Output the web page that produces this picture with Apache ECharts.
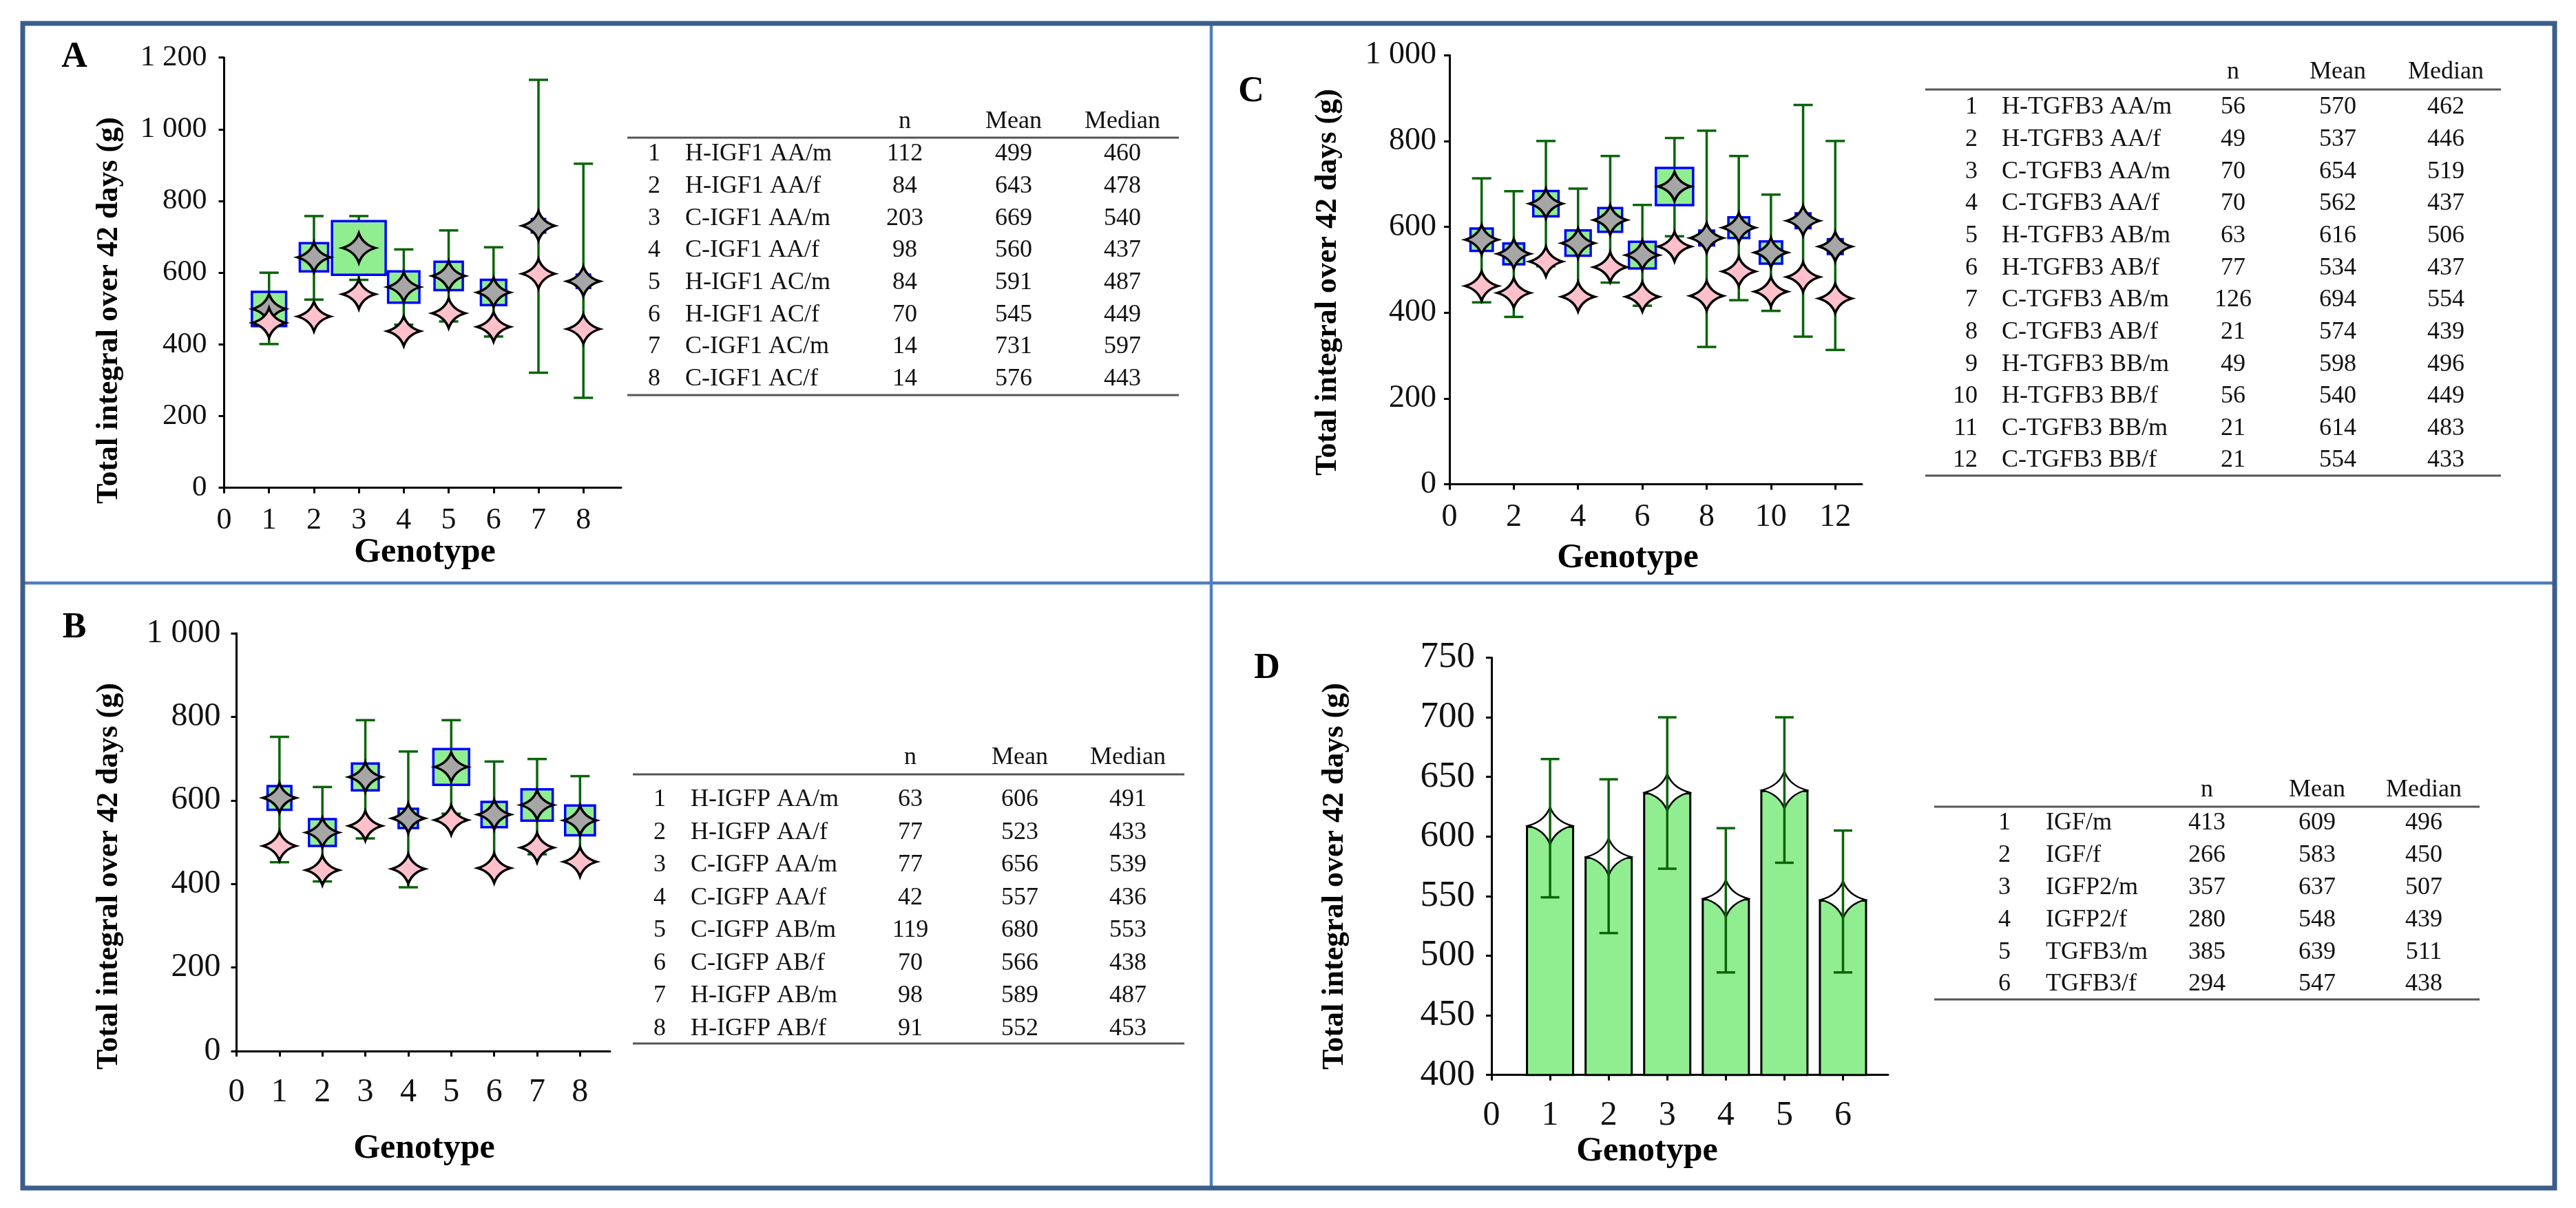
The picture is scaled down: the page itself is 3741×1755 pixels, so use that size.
<!DOCTYPE html>
<html><head><meta charset="utf-8">
<script src="https://cdn.jsdelivr.net/npm/echarts@6/dist/echarts.min.js"></script>
<style>html,body{margin:0;padding:0;background:#fff}#c{width:3741px;height:1755px}</style>
</head><body><div id="c"></div>
<script>
// ---------- DATA ----------
const A_labels = ['H-IGF1 AA/m','H-IGF1 AA/f','C-IGF1 AA/m','C-IGF1 AA/f','H-IGF1 AC/m','H-IGF1 AC/f','C-IGF1 AC/m','C-IGF1 AC/f'];
const A_n = [112,84,203,98,84,70,14,14];
const A_mean = [499,643,669,560,591,545,731,576];
const A_median = [460,478,540,437,487,449,597,443];
const A_errLow = [401,525,580,455,464,422,321,251];
const A_errHigh = [600,758,758,665,718,671,1138,904];

const B_labels = ['H-IGFP AA/m','H-IGFP AA/f','C-IGFP AA/m','C-IGFP AA/f','C-IGFP AB/m','C-IGFP AB/f','H-IGFP AB/m','H-IGFP AB/f'];
const B_n = [63,77,77,42,119,70,98,91];
const B_mean = [606,523,656,557,680,566,589,552];
const B_median = [491,433,539,436,553,438,487,453];
const B_errLow = [452,406,509,392,568,440,471,446];
const B_errHigh = [752,632,792,717,792,693,699,658];

const C_labels = ['H-TGFB3 AA/m','H-TGFB3 AA/f','C-TGFB3 AA/m','C-TGFB3 AA/f','H-TGFB3 AB/m','H-TGFB3 AB/f','C-TGFB3 AB/m','C-TGFB3 AB/f','H-TGFB3 BB/m','H-TGFB3 BB/f','C-TGFB3 BB/m','C-TGFB3 BB/f'];
const C_n = [56,49,70,70,63,77,126,21,49,56,21,21];
const C_mean = [570,537,654,562,616,534,694,574,598,540,614,554];
const C_median = [462,446,519,437,506,437,554,439,496,449,483,433];
const C_errLow = [424,390,508,435,470,416,578,320,429,404,344,313];
const C_errHigh = [713,683,800,689,765,651,807,824,765,675,884,800];

const D_labels = ['IGF/m','IGF/f','IGFP2/m','IGFP2/f','TGFB3/m','TGFB3/f'];
const D_n = [413,266,357,280,385,294];
const D_mean = [609,583,637,548,639,547];
const D_median = [496,450,507,439,511,438];
const D_errLow = [549,519,573,486,578,486];
const D_errHigh = [665,648,700,607,700,605];

const A_xTicks = [0,1,2,3,4,5,6,7,8];
const B_xTicks = [0,1,2,3,4,5,6,7,8];
const C_xTicks = [0,2,4,6,8,10,12];
const D_xTicks = [0,1,2,3,4,5,6];

const yTitle = 'Total integral over 42 days (g)';
const xTitle = 'Genotype';
const tableHead = ['n','Mean','Median'];

// ---------- STYLE ----------
const FONT = 'Liberation Serif';
const TXT = '#111';
const STAR = 'path://M0,-10 Q2.4,-2.4 10,0 Q2.4,2.4 0,10 Q-2.4,2.4 -10,0 Q-2.4,-2.4 0,-10 Z';
const fmt = v => v >= 1000 ? String(v).replace(/(\d)(\d{3})$/, '$1 $2') : String(v);

function xAxis(i, max, ticks, fs, margin) {
  return {gridIndex:i, type:'value', min:0, max:max,
    axisLine:{show:true, onZero:false, lineStyle:{color:'#000', width:3}},
    axisTick:{show:true, customValues:ticks, length:8, lineStyle:{color:'#000', width:3}},
    axisLabel:{customValues:ticks, fontFamily:FONT, fontSize:fs, color:TXT, margin:margin},
    splitLine:{show:false}};
}
function yAxis(i, min, max, interval, fs, margin) {
  return {gridIndex:i, type:'value', min:min, max:max, interval:interval,
    axisLine:{show:true, lineStyle:{color:'#000', width:3}},
    axisTick:{show:true, length:8, lineStyle:{color:'#000', width:3}},
    axisLabel:{fontFamily:FONT, fontSize:fs, color:TXT, margin:margin, formatter:fmt},
    splitLine:{show:false}};
}
function errSeries(i, lo, hi, cap, z) {
  return {type:'custom', xAxisIndex:i, yAxisIndex:i, z:z, silent:true,
    data: lo.map((l,k)=>[k+1, l, hi[k]]),
    encode:{x:0, y:[1,2]},
    renderItem:(params, api)=>{
      const x = api.value(0);
      const a = api.coord([x, api.value(1)]);
      const b = api.coord([x, api.value(2)]);
      const st = {stroke:'#0a640a', lineWidth:3.5};
      const h = cap/2;
      return {type:'group', children:[
        {type:'line', shape:{x1:a[0],y1:a[1],x2:b[0],y2:b[1]}, style:st},
        {type:'line', shape:{x1:a[0]-h,y1:a[1],x2:a[0]+h,y2:a[1]}, style:st},
        {type:'line', shape:{x1:b[0]-h,y1:b[1],x2:b[0]+h,y2:b[1]}, style:st}
      ]};
    }};
}
function scatterPanel(i, n, mean, median, lo, hi) {
  return [
    errSeries(i, lo, hi, 28, 1),
    {type:'scatter', xAxisIndex:i, yAxisIndex:i, z:2, symbol:'rect',
      data: mean.map((m,k)=>[k+1, m, n[k]]),
      symbolSize: v => 15 + 0.31*v[2],
      itemStyle:{color:'#90EE90', borderColor:'#0000FF', borderWidth:3.5, opacity:1}},
    {type:'scatter', xAxisIndex:i, yAxisIndex:i, z:3, symbol:STAR, symbolSize:[48,43],
      data: mean.map((m,k)=>[k+1, m]),
      itemStyle:{color:'#A6A6A6', borderColor:'#000', borderWidth:3.5, opacity:1}},
    {type:'scatter', xAxisIndex:i, yAxisIndex:i, z:4, symbol:STAR, symbolSize:[48,43],
      data: median.map((m,k)=>[k+1, m]),
      itemStyle:{color:'#FFC0CB', borderColor:'#000', borderWidth:3.5, opacity:1}}
  ];
}

// ---------- GRAPHIC (frame, titles, tables) ----------
const g = [];
g.push({type:'rect', z:-10, shape:{x:0,y:0,width:3741,height:1755}, style:{fill:'#fff'}});
g.push({type:'line', z:50, shape:{x1:1759,y1:34,x2:1759,y2:1726}, style:{stroke:'#4F7FBE', lineWidth:4.5}});
g.push({type:'line', z:50, shape:{x1:33,y1:847,x2:3710,y2:847}, style:{stroke:'#4F7FBE', lineWidth:4.5}});
g.push({type:'rect', z:51, shape:{x:33,y:34,width:3677,height:1692}, style:{fill:null, stroke:'#3B5E8C', lineWidth:7}});

function txt(x, y, s, opt) {
  return Object.assign({type:'text', x:x, y:y, z:60, style:Object.assign({text:s, fontFamily:FONT, fontSize:36, fill:TXT, align:'center', verticalAlign:'middle'}, opt||{})});
}
// panel letters
[['A',108,84],['B',108,913],['C',1817,134],['D',1840,972]].forEach(p=>g.push(txt(p[1],p[2],p[0],{fontSize:52,fontWeight:'bold',fill:'#000'})));
// axis titles
[[159,451],[159,1273],[1929,410],[1939,1273]].forEach(p=>{
  const t = txt(p[0],p[1],yTitle,{fontSize:44,fontWeight:'bold',fill:'#000'}); t.rotation = Math.PI/2; g.push(t);
});
[[617,803],[616,1669],[2364,811],[2392,1673]].forEach(p=>g.push(txt(p[0],p[1],xTitle,{fontSize:50,fontWeight:'bold',fill:'#000'})));

function table(c, labels, n, mean, median) {
  g.push({type:'line', z:60, shape:{x1:c.x0,y1:c.top,x2:c.x1,y2:c.top}, style:{stroke:'#555',lineWidth:3}});
  g.push({type:'line', z:60, shape:{x1:c.x0,y1:c.bot,x2:c.x1,y2:c.bot}, style:{stroke:'#555',lineWidth:3}});
  [c.nX, c.meanX, c.medX].forEach((x,k)=>g.push(txt(x, c.head, tableHead[k])));
  labels.forEach((lab,k)=>{
    const y = c.row0 + k*c.dy;
    g.push(txt(c.numX, y, String(k+1), {align:c.numAlign}));
    g.push(txt(c.labX, y, lab, {align:'left'}));
    g.push(txt(c.nX, y, String(n[k])));
    g.push(txt(c.meanX, y, String(mean[k])));
    g.push(txt(c.medX, y, String(median[k])));
  });
}
table({x0:911,x1:1712,top:200,bot:574,head:177,row0:224,dy:46.67,numX:950,numAlign:'center',labX:995,nX:1314,meanX:1472,medX:1630}, A_labels, A_n, A_mean, A_median);
table({x0:919,x1:1720,top:1125,bot:1516,head:1101,row0:1162,dy:47.5,numX:958,numAlign:'center',labX:1003,nX:1322,meanX:1481,medX:1638}, B_labels, B_n, B_mean, B_median);
table({x0:2796,x1:3632,top:130,bot:691,head:105,row0:156,dy:46.64,numX:2872,numAlign:'right',labX:2907,nX:3243,meanX:3395,medX:3552}, C_labels, C_n, C_mean, C_median);
table({x0:2809,x1:3601,top:1172,bot:1452,head:1148,row0:1196,dy:46.8,numX:2911,numAlign:'center',labX:2971,nX:3205,meanX:3365,medX:3520}, D_labels, D_n, D_mean, D_median);

// ---------- OPTION ----------
const option = {
  animation:false,
  backgroundColor:'#fff',
  grid:[
    {left:325.5, top:83.7, width:576.5, height:625},
    {left:343.5, top:920, width:542.5, height:607},
    {left:2105, top:80.2, width:599, height:623.3},
    {left:2166, top:955.5, width:576, height:606.2}
  ],
  xAxis:[
    xAxis(0, 8.84, A_xTicks, 44, 26),
    xAxis(1, 8.7, B_xTicks, 48, 36),
    xAxis(2, 12.83, C_xTicks, 46, 25),
    xAxis(3, 6.77, D_xTicks, 50, 34)
  ],
  yAxis:[
    yAxis(0, 0, 1200, 200, 43, 25),
    yAxis(1, 0, 1000, 200, 48, 23),
    yAxis(2, 0, 1000, 200, 46, 19),
    yAxis(3, 400, 750, 50, 53, 24)
  ],
  series:[
    ...scatterPanel(0, A_n, A_mean, A_median, A_errLow, A_errHigh),
    ...scatterPanel(1, B_n, B_mean, B_median, B_errLow, B_errHigh),
    ...scatterPanel(2, C_n, C_mean, C_median, C_errLow, C_errHigh),
    {type:'bar', xAxisIndex:3, yAxisIndex:3, z:1, barWidth:70,
      data: D_mean.map((m,k)=>[k+1, m]),
      itemStyle:{color:'#90EE90', borderColor:'#000', borderWidth:3}},
    {type:'scatter', xAxisIndex:3, yAxisIndex:3, z:2, symbol:STAR, symbolSize:[64,54],
      data: D_mean.map((m,k)=>[k+1, m]),
      itemStyle:{color:'#fff', borderColor:'#000', borderWidth:2.5, opacity:1}},
    errSeries(3, D_errLow, D_errHigh, 27, 3)
  ],
  graphic: g
};
const chart = echarts.init(document.getElementById('c'));
chart.setOption(option);
</script></body></html>
